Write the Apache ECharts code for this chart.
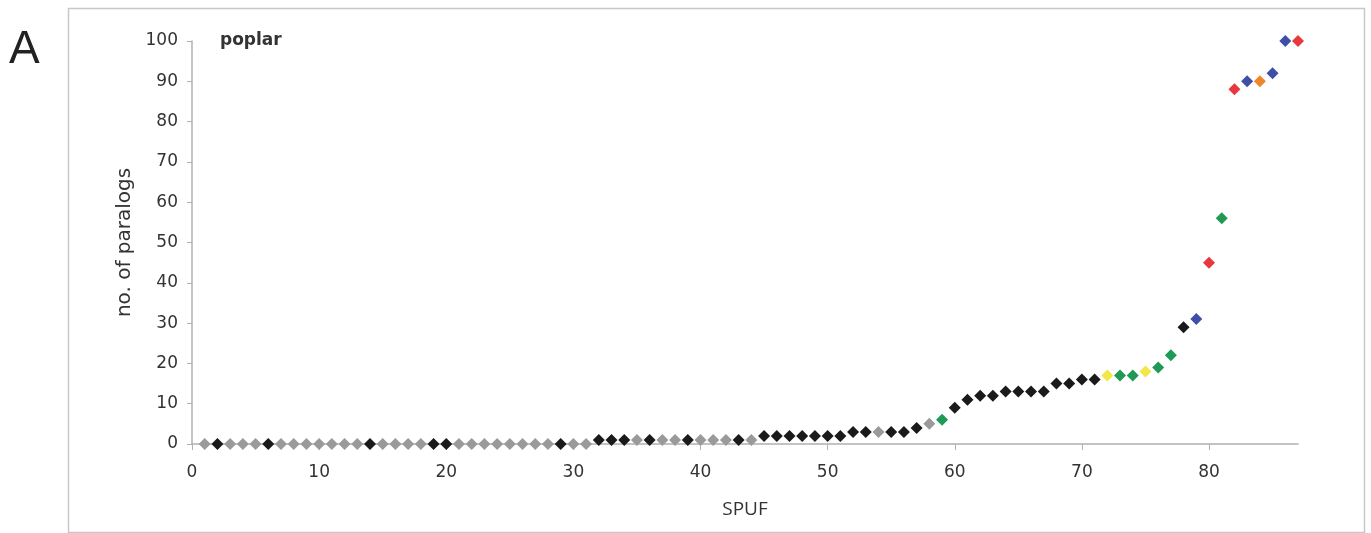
<!DOCTYPE html>
<html>
<head>
<meta charset="utf-8">
<script src="https://cdn.jsdelivr.net/npm/echarts@6/dist/echarts.min.js"></script>
<style>
html,body{margin:0;padding:0;background:#fff;}
#c{width:1371px;height:533px;}
</style>
</head>
<body>
<div id="c"></div>
<script>
// SPUF rank (x) and number of paralogs (y)
const spuf = [1,2,3,4,5,6,7,8,9,10,11,12,13,14,15,16,17,18,19,20,21,22,23,24,25,26,27,28,29,30,
  31,32,33,34,35,36,37,38,39,40,41,42,43,44,45,46,47,48,49,50,51,52,53,54,55,56,57,58,59,60,
  61,62,63,64,65,66,67,68,69,70,71,72,73,74,75,76,77,78,79,80,81,82,83,84,85,86,87];
const paralogs = [0,0,0,0,0,0,0,0,0,0,0,0,0,0,0,0,0,0,0,0,0,0,0,0,0,0,0,0,0,0,
  0,1,1,1,1,1,1,1,1,1,1,1,1,1,2,2,2,2,2,2,2,3,3,3,3,3,4,5,6,9,
  11,12,12,13,13,13,13,15,15,16,16,17,17,17,18,19,22,29,31,45,56,88,90,90,92,100,100];
// colour class of each point: g=grey, k=black, G=green, y=yellow, b=blue, r=red, o=orange
const colorClass = ['g','k','g','g','g','k','g','g','g','g','g','g','g','k','g','g','g','g','k','k',
  'g','g','g','g','g','g','g','g','k','g','g','k','k','k','g','k','g','g','k','g',
  'g','g','k','g','k','k','k','k','k','k','k','k','k','g','k','k','k','g','G','k',
  'k','k','k','k','k','k','k','k','k','k','k','y','G','G','y','G','G','k','b','r',
  'G','r','b','o','b','b','r'];
const palette = {g:'#9a9a9a', k:'#1a1a1a', G:'#1f9a55', y:'#f2e648', b:'#3f4fa8', r:'#e8383d', o:'#f0862a'};
const xTicks = [0,10,20,30,40,50,60,70,80];
const yTicks = [0,10,20,30,40,50,60,70,80,90,100];

const data = spuf.map((x,i)=>({value:[x, paralogs[i]], itemStyle:{color: palette[colorClass[i]], opacity:1}}));

const chart = echarts.init(document.getElementById('c'));
const axisCol = '#b0b0b0';
const labelFont = {color:'#333', fontSize:17, fontFamily:'DejaVu Sans, sans-serif'};
chart.setOption({
  animation:false,
  backgroundColor:'#fff',
  grid:{left:192, right:73, top:41, bottom:89, containLabel:false},
  xAxis:{
    type:'value', min:0, max:87, interval:10,
    name:'SPUF', nameLocation:'middle', nameGap:56,
    nameTextStyle:{color:'#333', fontSize:19, fontFamily:'Open Sans, sans-serif'},
    axisLine:{show:true, onZero:false, lineStyle:{color:axisCol, width:1.5}},
    axisTick:{show:true, length:6, customValues:xTicks, lineStyle:{color:axisCol}},
    splitLine:{show:false},
    axisLabel:Object.assign({margin:20, customValues:xTicks}, labelFont)
  },
  yAxis:{
    type:'value', min:0, max:100, interval:10,
    name:'no. of paralogs', nameLocation:'middle', nameGap:57,
    nameTextStyle:{color:'#333', fontSize:20, fontFamily:'DejaVu Sans, sans-serif'},
    axisLine:{show:true, lineStyle:{color:axisCol, width:1.5}},
    axisTick:{show:true, length:5, customValues:yTicks, lineStyle:{color:axisCol}},
    splitLine:{show:false},
    axisLabel:Object.assign({margin:14, customValues:yTicks}, labelFont)
  },
  graphic:[
    {type:'rect', left:66, top:6, shape:{width:1296, height:524}, style:{fill:'none', stroke:'#c8c8c8', lineWidth:1.5}, silent:true},
    {type:'text', x:9, y:50, style:{text:'A', fontSize:46, fill:'#222', verticalAlign:'middle', fontFamily:'Liberation Sans, Arial, sans-serif'}},
    {type:'text', x:220, y:41, style:{text:'poplar', fontSize:17, fontWeight:'bold', fill:'#333', verticalAlign:'middle', fontFamily:'DejaVu Sans, sans-serif'}}
  ],
  series:[{
    type:'scatter', symbol:'diamond', symbolSize:12,
    data:data
  }]
});
</script>
</body>
</html>
